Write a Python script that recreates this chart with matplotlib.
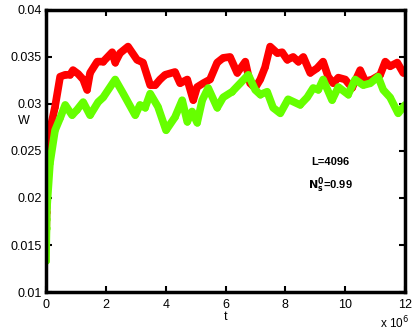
import matplotlib
matplotlib.use('Agg')
import matplotlib.pyplot as plt

plt.rcParams['font.family'] = ['Liberation Sans', 'DejaVu Sans']

# time in units of 1e6
t_red = [0, 0.005, 0.01, 0.015, 0.02, 0.03, 0.07, 0.13, 0.30, 0.47, 0.64, 0.80, 0.90,
         1.07, 1.24, 1.37, 1.47, 1.71, 1.91, 2.21, 2.31, 2.47, 2.74, 3.04, 3.24,
         3.48, 3.65, 3.81, 3.98, 4.31, 4.48, 4.72, 4.92, 5.05, 5.25, 5.48, 5.72,
         5.92, 6.15, 6.39, 6.66, 6.82, 6.99, 7.16, 7.32, 7.49, 7.73, 7.89, 8.06,
         8.26, 8.43, 8.60, 8.83, 9.06, 9.26, 9.43, 9.60, 9.77, 10.0, 10.23, 10.50,
         10.67, 10.90, 11.17, 11.34, 11.50, 11.74, 11.94]
w_red = [0.0153, 0.0165, 0.0175, 0.0185, 0.0195, 0.021, 0.023, 0.0272, 0.0297, 0.0329,
         0.0331, 0.0331, 0.0336, 0.0332, 0.0326, 0.0315, 0.0333, 0.0345, 0.0345,
         0.0355, 0.0344, 0.0354, 0.0361, 0.0347, 0.0344, 0.0320, 0.0320, 0.0326,
         0.0331, 0.0334, 0.0322, 0.0326, 0.0304, 0.0318, 0.0322, 0.0326, 0.0344,
         0.0349, 0.0350, 0.0333, 0.0345, 0.0322, 0.0317, 0.0326, 0.0339, 0.0361,
         0.0354, 0.0355, 0.0347, 0.0350, 0.0345, 0.0350, 0.0333, 0.0338, 0.0345,
         0.0329, 0.0322, 0.0328, 0.0326, 0.0317, 0.0336, 0.0324, 0.0326, 0.0331,
         0.0345, 0.0340, 0.0344, 0.0333]

t_green = [0, 0.005, 0.01, 0.015, 0.02, 0.03, 0.13, 0.30, 0.47, 0.64, 0.87, 1.04, 1.24,
           1.47, 1.74, 1.91, 2.31, 2.58, 2.98, 3.14, 3.31, 3.48, 3.74, 4.01, 4.31,
           4.55, 4.72, 4.88, 5.05, 5.22, 5.42, 5.72, 5.92, 6.22, 6.49, 6.76, 6.99,
           7.16, 7.39, 7.59, 7.83, 8.09, 8.49, 8.73, 8.93, 9.10, 9.26, 9.56, 9.77,
           10.10, 10.33, 10.60, 10.84, 11.10, 11.27, 11.50, 11.77, 12.0]
w_green = [0.0133, 0.0150, 0.0158, 0.0168, 0.0178, 0.0190, 0.0237, 0.0272, 0.0285,
           0.0299, 0.0288, 0.0294, 0.0302, 0.0288, 0.0302, 0.0307, 0.0326, 0.0311,
           0.0288, 0.0299, 0.0296, 0.0311, 0.0297, 0.0272, 0.0286, 0.0304, 0.0281,
           0.0292, 0.0280, 0.0304, 0.0317, 0.0296, 0.0307, 0.0313, 0.0322, 0.0331,
           0.0315, 0.0310, 0.0313, 0.0296, 0.0290, 0.0305, 0.0299, 0.0307, 0.0317,
           0.0315, 0.0326, 0.0304, 0.0318, 0.0310, 0.0326, 0.0320, 0.0322, 0.0329,
           0.0315, 0.0307, 0.0290, 0.0299]

fig = plt.figure(figsize=(4.15, 3.3), dpi=100)
ax = fig.add_axes([0.111, 0.115, 0.865, 0.855])

ax.plot(t_red, w_red, color='#ff0000', lw=5.5, marker='o', ms=3.5,
        solid_capstyle='round', solid_joinstyle='round')
ax.plot(t_green, w_green, color='#66ff00', lw=5.5, marker='o', ms=3.5,
        solid_capstyle='round', solid_joinstyle='round')

ax.set_xlim(0, 12)
ax.set_ylim(0.01, 0.04)
ax.set_xticks([0, 2, 4, 6, 8, 10, 12])
ax.set_yticks([0.01, 0.015, 0.02, 0.025, 0.03, 0.035, 0.04])
ax.set_yticklabels(['0.01', '0.015', '0.02', '0.025', '0.03', '0.035', '0.04'])
ax.tick_params(direction='in', top=True, right=True, length=4, width=1.5,
               labelsize=9, pad=3)
ax.tick_params(axis='x', pad=5)
for s in ax.spines.values():
    s.set_linewidth(2.5)

ax.set_xlabel('t', fontsize=9, labelpad=0)
ax.text(-0.045, 0.605, 'W', transform=ax.transAxes, fontsize=9, ha='right', va='center')
ax.text(1.01, -0.11, r'x 10$^6$', transform=ax.transAxes, fontsize=8.5, ha='right', va='center')

ax.text(9.5, 0.0238, 'L=4096', fontsize=8, fontweight='bold', ha='center', va='center')
ax.text(9.5, 0.0214, r'$\mathbf{N_s^0}$=0.99', fontsize=8, fontweight='bold',
        ha='center', va='center')

fig.savefig('out.png', dpi=100)
